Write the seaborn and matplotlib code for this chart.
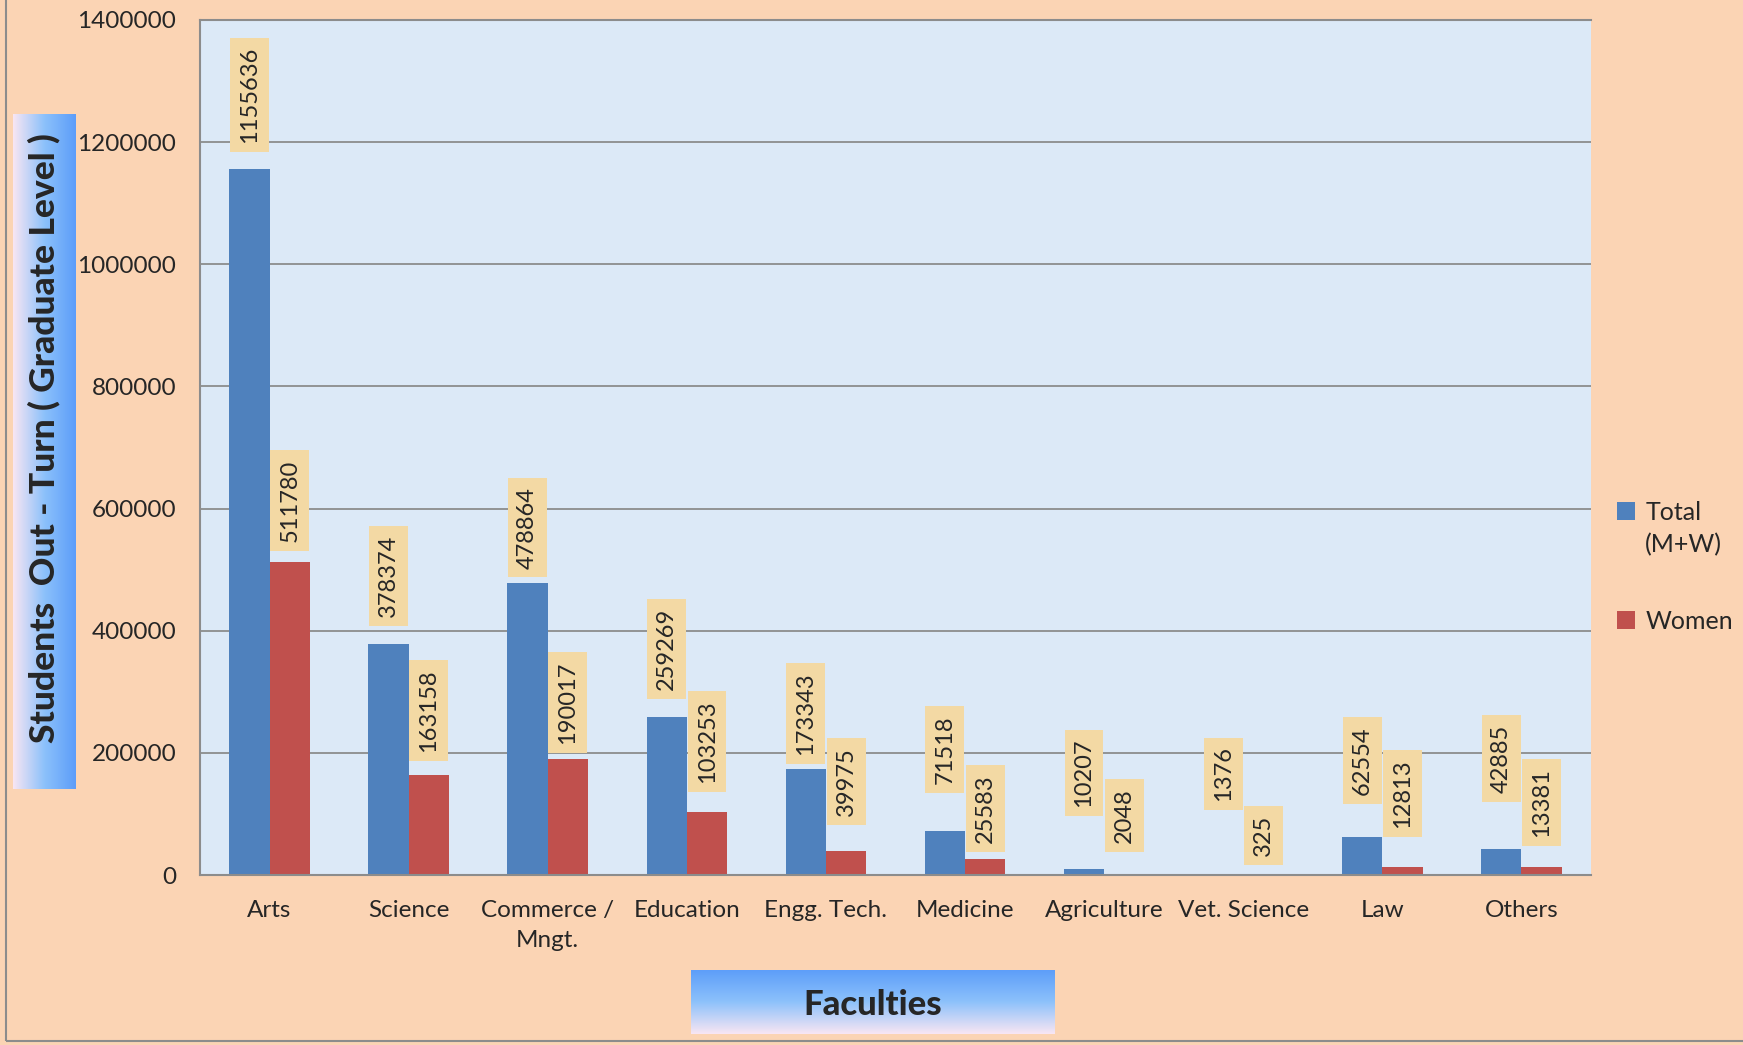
import pandas as pd
import numpy as np
import matplotlib
matplotlib.use("Agg")
import matplotlib.pyplot as plt
import matplotlib.ticker as mticker
from matplotlib.patches import Rectangle
import seaborn as sns

# ── DATA ──────────────────────────────────────────────────────────────────────
FACULTIES = ["Arts", "Science", "Commerce /\nMngt.", "Education", "Engg. Tech.",
             "Medicine", "Agriculture", "Vet. Science", "Law", "Others"]
TOTAL = [1155636, 378374, 478864, 259269, 173343, 71518, 10207, 1376, 62554, 42885]
WOMEN = [511780, 163158, 190017, 103253, 39975, 25583, 2048, 325, 12813, 13381]
SERIES = ["Total", "Women"]

# label lift above each bar (data units, thousands) – hand-placed in the source chart
LIFT_TOTAL = [30, 31, 10, 30, 10, 65, 88, 106, 56, 79]
LIFT_WOMEN = [21, 26, 12, 35, 44, 14, 38, 18, 51, 36]

df = pd.DataFrame({
    "faculty": FACULTIES * 2,
    "count": TOTAL + WOMEN,
    "series": [SERIES[0]] * len(FACULTIES) + [SERIES[1]] * len(FACULTIES),
})

# ── STYLE ─────────────────────────────────────────────────────────────────────
sns.set_theme(style="white")
plt.rcParams["font.family"] = ["Lato", "DejaVu Sans"]
PEACH = "#FBD4B4"
PLOT_BG = "#DCE9F7"
BLUE = "#4F81BD"
RED = "#C0504D"
GRID = "#8C8C8C"
TAN = "#F3D9A4"

W, H = 1743, 1045
fig = plt.figure(figsize=(W / 100, H / 100), dpi=100, facecolor=PEACH)
ax = fig.add_axes([200 / W, 1 - 875 / H, (1591 - 200) / W, (875 - 20) / H])
ax.set_facecolor(PLOT_BG)

sns.barplot(data=df, x="faculty", y="count", hue="series", order=FACULTIES,
            hue_order=SERIES, palette=[BLUE, RED], width=0.58, gap=0,
            saturation=1, ax=ax, edgecolor="none")

ax.set_ylim(0, 1400000)
ax.set_xlim(-0.5, len(FACULTIES) - 0.5)
ax.yaxis.set_major_locator(mticker.MultipleLocator(200000))
ax.yaxis.set_major_formatter(mticker.FuncFormatter(lambda v, _: f"{int(v)}"))
ax.grid(axis="y", color=GRID, lw=1.3)
ax.set_axisbelow(True)
ax.tick_params(axis="y", length=0, pad=17, labelsize=17.5)
ax.tick_params(axis="x", length=0, pad=18, labelsize=17.5)
for lbl in ax.get_xticklabels():
    lbl.set_linespacing(1.55)
ax.set_xlabel("")
ax.set_ylabel("")
for s in ["left", "bottom", "top"]:
    ax.spines[s].set_color(GRID)
    ax.spines[s].set_linewidth(1.5)
ax.spines["right"].set_visible(False)

# ── DATA LABELS ───────────────────────────────────────────────────────────────
pad_units = 13000
for container, lifts in zip(ax.containers, [LIFT_TOTAL, LIFT_WOMEN]):
    for bar, lift in zip(container, lifts):
        xc = bar.get_x() + bar.get_width() / 2
        top = bar.get_height()
        ax.text(xc, top + lift * 1000 + pad_units, f"{int(top)}",
                rotation=90, ha="center", va="bottom", fontsize=17,
                bbox=dict(boxstyle="square,pad=0.38", fc=TAN, ec="none"))

# ── LEGEND ────────────────────────────────────────────────────────────────────
handles, labels = ax.get_legend_handles_labels()
ax.legend_.remove()
leg = fig.legend(handles, labels, loc="upper left",
                 bbox_to_anchor=(1594 / W, 1 - 478 / H), frameon=False,
                 fontsize=18, handlelength=0.75, handleheight=0.75,
                 handletextpad=0.4, labelspacing=3.45)
fig.canvas.draw()
tb = leg.get_texts()[0].get_window_extent()
fig.text(tb.x0 / W, (tb.y0 - 9) / H, "(M+W)", ha="left", va="top", fontsize=18)

# ── GRADIENT TITLE BOXES ──────────────────────────────────────────────────────
grad = np.linspace(0, 1, 256)
cmap_box = matplotlib.colors.LinearSegmentedColormap.from_list(
    "box", ["#F9E6F3", "#8CC1FB", "#5C9DF9"])

yax = fig.add_axes([13 / W, 1 - 789 / H, 63 / W, (789 - 114) / H])
yax.imshow(grad[np.newaxis, :], aspect="auto", cmap=cmap_box,
           extent=[0, 1, 0, 1])
yax.set_axis_off()
yax.text(0.5, 0.52, "Students  Out - Turn ( Graduate Level )", rotation=90,
         ha="center", va="center", fontsize=25.5, fontweight="black",
         transform=yax.transAxes)

xax = fig.add_axes([691 / W, 1 - 1034 / H, (1055 - 691) / W, 64 / H])
xax.imshow(grad[:, np.newaxis], aspect="auto", cmap=cmap_box,
           extent=[0, 1, 0, 1], origin="lower")
xax.set_axis_off()
xax.text(0.5, 0.45, "Faculties", ha="center", va="center", fontsize=25,
         fontweight="black", transform=xax.transAxes)

# figure border
fig.patches.append(Rectangle((6 / W, 4 / H), 1.2, 1.2, transform=fig.transFigure,
                             fill=False, ec="#8C8C8C", lw=1.5))

fig.savefig("out.png", dpi=100, facecolor=PEACH)
